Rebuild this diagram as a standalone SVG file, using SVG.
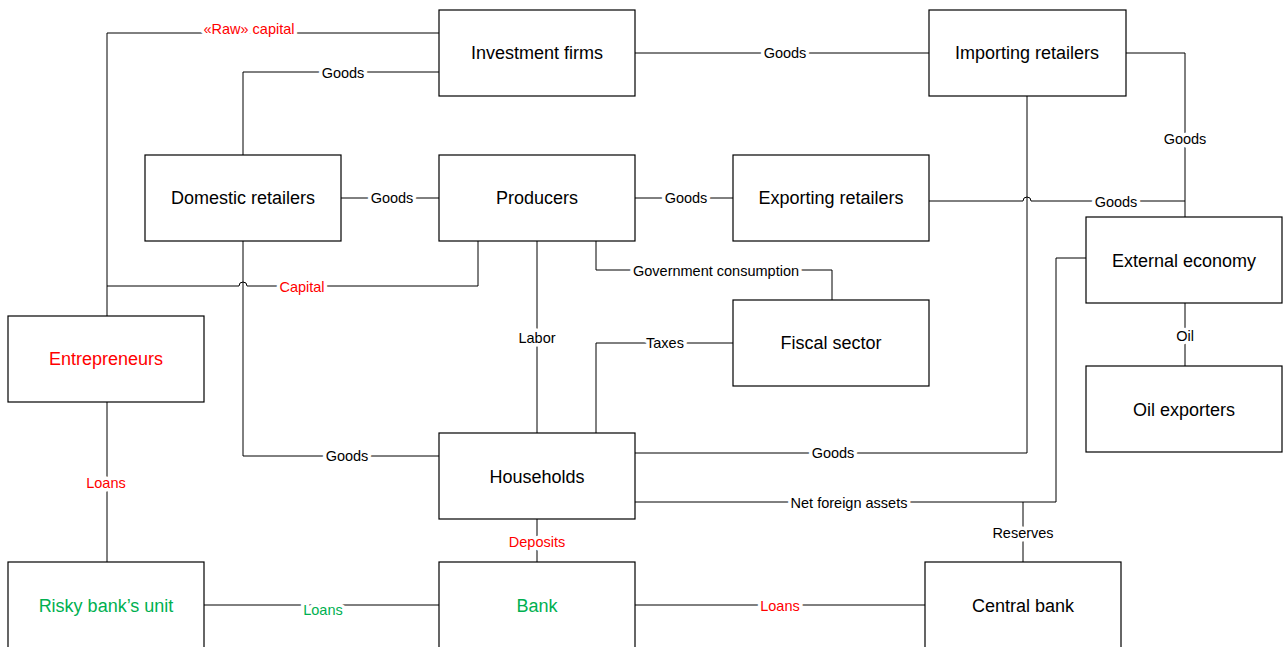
<svg xmlns="http://www.w3.org/2000/svg" width="1287" height="647" viewBox="0 0 1287 647">
<style>
.box{fill:#fff;stroke:#000;stroke-width:1.2}
.nt{font-family:"Liberation Sans",Arial,sans-serif;font-size:18px;text-anchor:middle;dominant-baseline:central;fill:#000}
.ln{fill:none;stroke:#000;stroke-width:1}
.lb{font-family:"Liberation Sans",Arial,sans-serif;font-size:14.5px;text-anchor:middle;dominant-baseline:central;fill:#000;paint-order:stroke;stroke:#fff;stroke-width:7px;stroke-linejoin:round}
.red{fill:#ff0000}
.green{fill:#00b050}
</style>
<rect width="1287" height="647" fill="#fff"/>
<g id="connectors">
<path class="ln" d="M439 33 H107 V316"/>
<path class="ln" d="M439 72 H243 V155"/>
<path class="ln" d="M635 53 H929"/>
<path class="ln" d="M1126 53 H1185 V217"/>
<path class="ln" d="M341 198 H439"/>
<path class="ln" d="M635 198 H733"/>
<path class="ln" d="M929 201 H1023 A4 4 0 0 1 1031 201 H1185"/>
<path class="ln" d="M478 241 V286 H247 A4 4 0 0 0 239 286 H107"/>
<path class="ln" d="M243 241 V456 H439"/>
<path class="ln" d="M596 241 V270 H832 V300"/>
<path class="ln" d="M537 241 V433"/>
<path class="ln" d="M733 343 H596 V433"/>
<path class="ln" d="M1027 96 V453 H635"/>
<path class="ln" d="M635 502 H1056 V258 H1086"/>
<path class="ln" d="M1023 502 V562"/>
<path class="ln" d="M1185 303 V366"/>
<path class="ln" d="M107 402 V562"/>
<path class="ln" d="M537 519 V562"/>
<path class="ln" d="M204 605 H439"/>
<path class="ln" d="M635 605 H925"/>
<text class="lb red" x="249" y="29">«Raw» capital</text>
<text class="lb" x="343" y="73">Goods</text>
<text class="lb" x="785" y="53">Goods</text>
<text class="lb" x="1185" y="139">Goods</text>
<text class="lb" x="392" y="198">Goods</text>
<text class="lb" x="686" y="198">Goods</text>
<text class="lb" x="1116" y="202">Goods</text>
<text class="lb red" x="302" y="287">Capital</text>
<text class="lb" x="347" y="456">Goods</text>
<text class="lb" x="716" y="271">Government consumption</text>
<text class="lb" x="537" y="338">Labor</text>
<text class="lb" x="665" y="343">Taxes</text>
<text class="lb" x="833" y="453">Goods</text>
<text class="lb" x="849" y="503">Net foreign assets</text>
<text class="lb" x="1023" y="533">Reserves</text>
<text class="lb" x="1185" y="336">Oil</text>
<text class="lb red" x="106" y="483">Loans</text>
<text class="lb red" x="537" y="542">Deposits</text>
<text class="lb green" x="323" y="610">Loans</text>
<text class="lb red" x="780" y="606">Loans</text>
</g>
<g id="investment-firms"><rect class="box" x="439" y="10" width="196" height="86"/><text class="nt" x="537" y="53">Investment firms</text></g>
<g id="importing-retailers"><rect class="box" x="929" y="10" width="197" height="86"/><text class="nt" x="1027" y="53">Importing retailers</text></g>
<g id="domestic-retailers"><rect class="box" x="145" y="155" width="196" height="86"/><text class="nt" x="243" y="198">Domestic retailers</text></g>
<g id="producers"><rect class="box" x="439" y="155" width="196" height="86"/><text class="nt" x="537" y="198">Producers</text></g>
<g id="exporting-retailers"><rect class="box" x="733" y="155" width="196" height="86"/><text class="nt" x="831" y="198">Exporting retailers</text></g>
<g id="external-economy"><rect class="box" x="1086" y="217" width="196" height="86"/><text class="nt" x="1184" y="261">External economy</text></g>
<g id="fiscal-sector"><rect class="box" x="733" y="300" width="196" height="86"/><text class="nt" x="831" y="343">Fiscal sector</text></g>
<g id="entrepreneurs"><rect class="box" x="8" y="316" width="196" height="86"/><text class="nt red" x="106" y="359">Entrepreneurs</text></g>
<g id="oil-exporters"><rect class="box" x="1086" y="366" width="196" height="86"/><text class="nt" x="1184" y="410">Oil exporters</text></g>
<g id="households"><rect class="box" x="439" y="433" width="196" height="86"/><text class="nt" x="537" y="477">Households</text></g>
<g id="risky-bank-unit"><rect class="box" x="8" y="562" width="196" height="100"/><text class="nt green" x="106" y="606">Risky bank’s unit</text></g>
<g id="bank"><rect class="box" x="439" y="562" width="196" height="100"/><text class="nt green" x="537" y="606">Bank</text></g>
<g id="central-bank"><rect class="box" x="925" y="562" width="196" height="100"/><text class="nt" x="1023" y="606">Central bank</text></g>
</svg>
